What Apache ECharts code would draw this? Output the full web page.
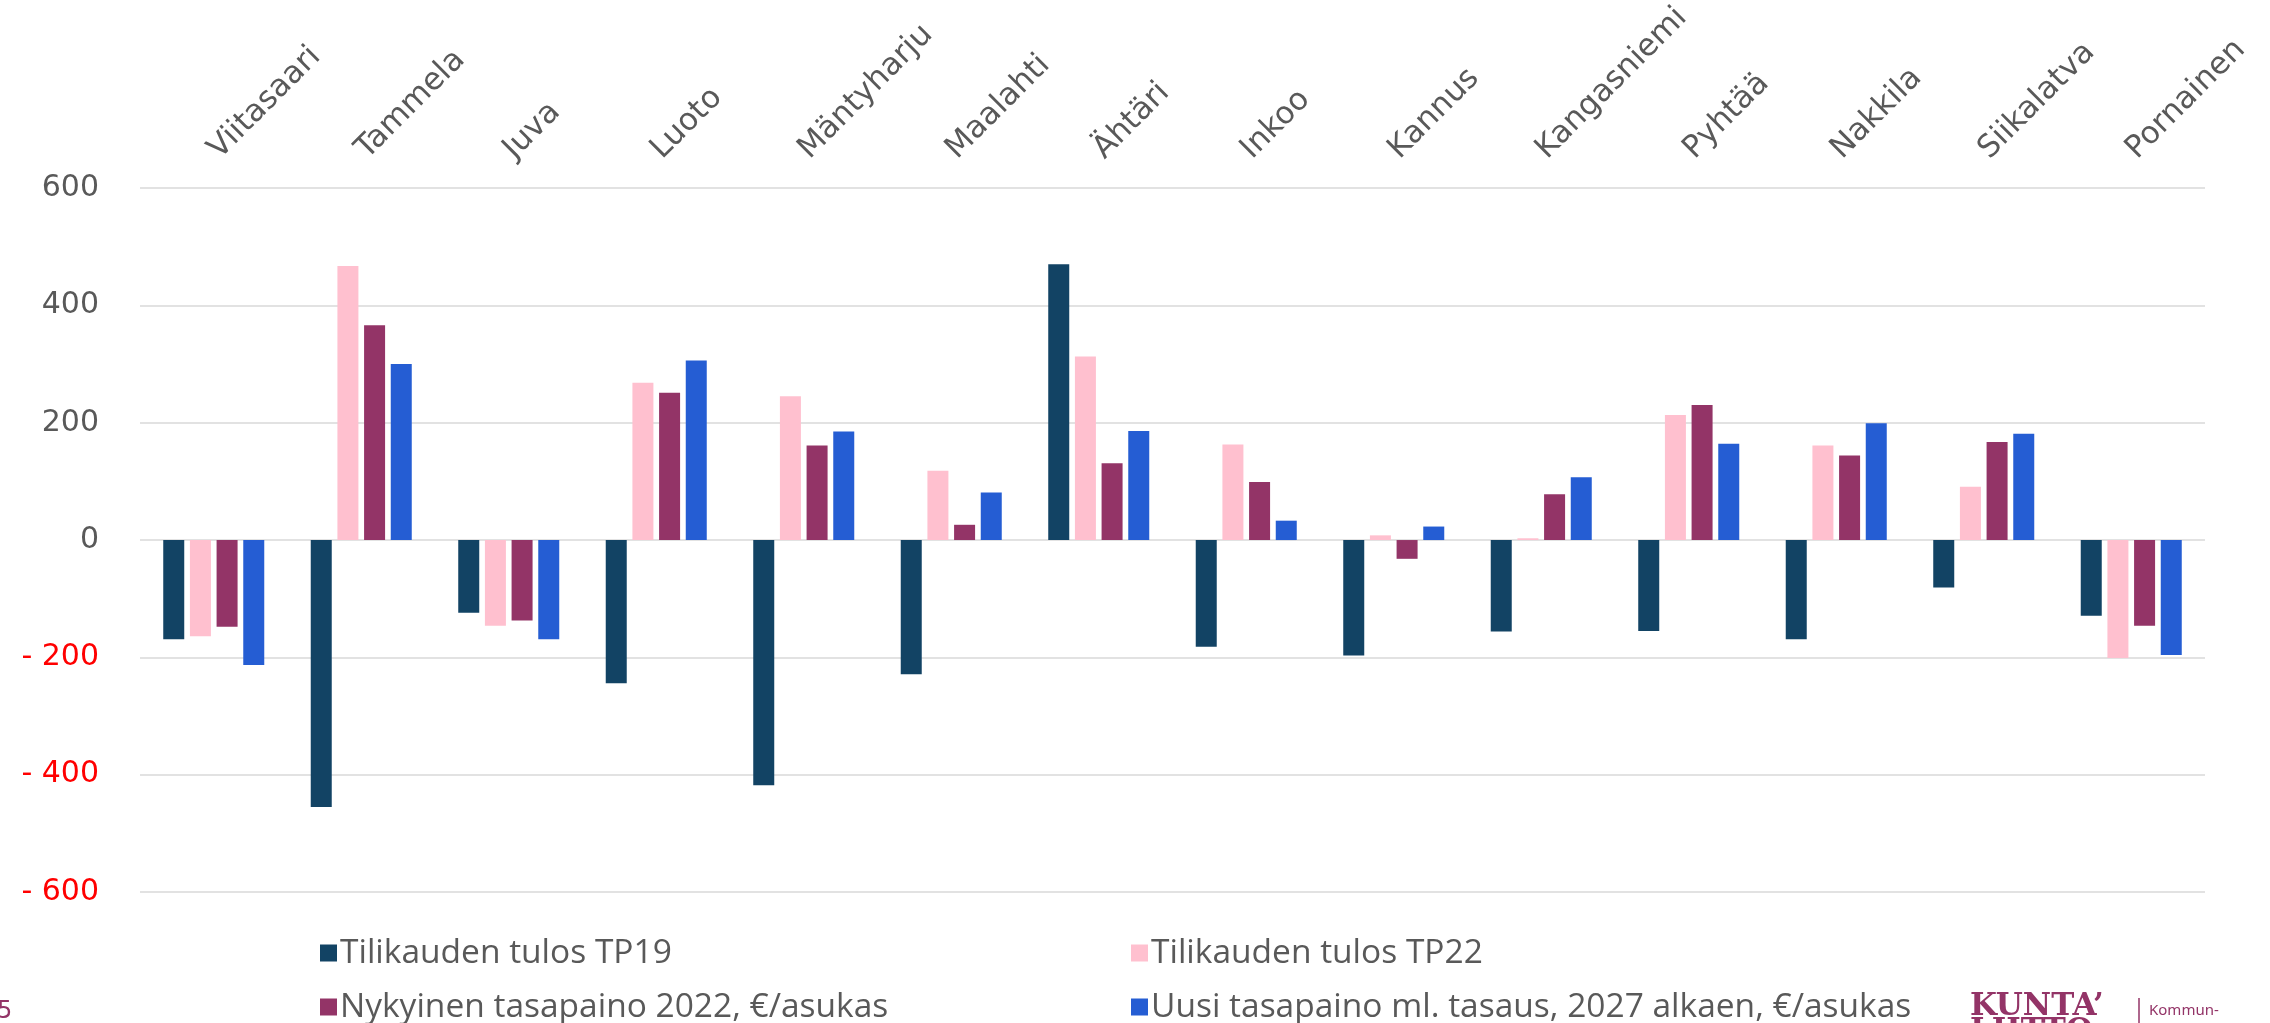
<!DOCTYPE html>
<html>
<head>
<meta charset="utf-8">
<script src="https://cdn.jsdelivr.net/npm/echarts@6/dist/echarts.min.js"></script>
<style>
html,body{margin:0;padding:0;background:#fff;}
#chart{width:2270px;height:1023px;}
</style>
</head>
<body>
<div id="chart"></div>
<script>
const categories = ['Viitasaari','Tammela','Juva','Luoto','Mäntyharju','Maalahti','Ähtäri','Inkoo','Kannus','Kangasniemi','Pyhtää','Nakkila','Siikalatva','Pornainen'];
const seriesNames = ['Tilikauden tulos TP19','Tilikauden tulos TP22','Nykyinen tasapaino 2022, €/asukas','Uusi tasapaino ml. tasaus, 2027 alkaen, €/asukas'];
const tp19 = [-169,-455,-124,-244,-418,-229,470,-182,-197,-156,-155,-169,-81,-129];
const tp22 = [-164,467,-146,268,245,118,313,163,8,3,213,161,91,-201];
const nyk  = [-148,366,-137,251,161,26,131,99,-32,78,230,144,167,-146];
const uusi = [-213,300,-169,306,185,81,186,33,23,107,164,199,181,-196];
const yMin = -600, yMax = 600, yStep = 200;
const colors = ['#124364','#FFC0CF','#933467','#255DD3'];

const chart = echarts.init(document.getElementById('chart'), null, {renderer:'canvas'});
const seriesData = [tp19, tp22, nyk, uusi];

const legendPos = [
  {left:315, top:930},
  {left:1126, top:930},
  {left:315, top:984},
  {left:1126, top:984}
];

const option = {
  backgroundColor:'#ffffff',
  animation:false,
  color: colors,
  grid:{left:140, right:65, top:188, bottom:131, containLabel:false},
  legend: seriesNames.map((n,i)=>({
    data:[n],
    left:legendPos[i].left, top:legendPos[i].top,
    itemWidth:17, itemHeight:17, itemGap:8,
    icon:'rect',
    textStyle:{fontFamily:'"Open Sans"', fontSize:33.5, color:'#595959', padding:[0,0,0,-2], lineHeight:36},
    selectedMode:false
  })),
  xAxis:{
    type:'category',
    position:'top',
    data:categories,
    axisLine:{show:false},
    axisTick:{show:false},
    splitLine:{show:false},
    axisLabel:{rotate:45, margin:34, fontFamily:'"DejaVu Sans"', fontSize:31, color:'#595959', interval:0}
  },
  yAxis:{
    type:'value',
    min:yMin, max:yMax, interval:yStep,
    axisLine:{show:false},
    axisTick:{show:false},
    splitLine:{show:true, lineStyle:{color:'#d9d9d9', width:1.5}},
    axisLabel:{
      margin:41,
      fontFamily:'"DejaVu Sans"', fontSize:30,
      formatter:function(v){ return v<0 ? '- ' + (-v) : String(v); },
      color:function(v){ return Number(v) < 0 ? '#FF0000' : '#595959'; }
    }
  },
  series: seriesData.map((d,i)=>({
    name:seriesNames[i],
    type:'bar',
    data:d,
    barWidth:21,
    barGap:'27%',
    itemStyle:{color:colors[i]}
  })),
  graphic:[
    {type:'text', left:-3, top:1000, style:{text:'5', fontFamily:'"DejaVu Sans"', fontSize:24, fill:'#933467'}},
    {type:'text', left:1970, top:991, style:{text:'KUNTA\u2019', fontFamily:'"DejaVu Serif"', fontWeight:'bold', fontSize:31, fill:'#933467'}},
    {type:'text', left:1970, top:1016, style:{text:'LIITTO', fontFamily:'"DejaVu Serif"', fontWeight:'bold', fontSize:31, fill:'#933467'}},
    {type:'line', shape:{x1:2139, y1:998, x2:2139, y2:1023}, style:{stroke:'#933467', lineWidth:1.5}},
    {type:'text', left:2149, top:1003, style:{text:'Kommun-', fontFamily:'"Noto Sans"', fontSize:15, fill:'#933467'}}
  ]
};
chart.setOption(option);
</script>
</body>
</html>
